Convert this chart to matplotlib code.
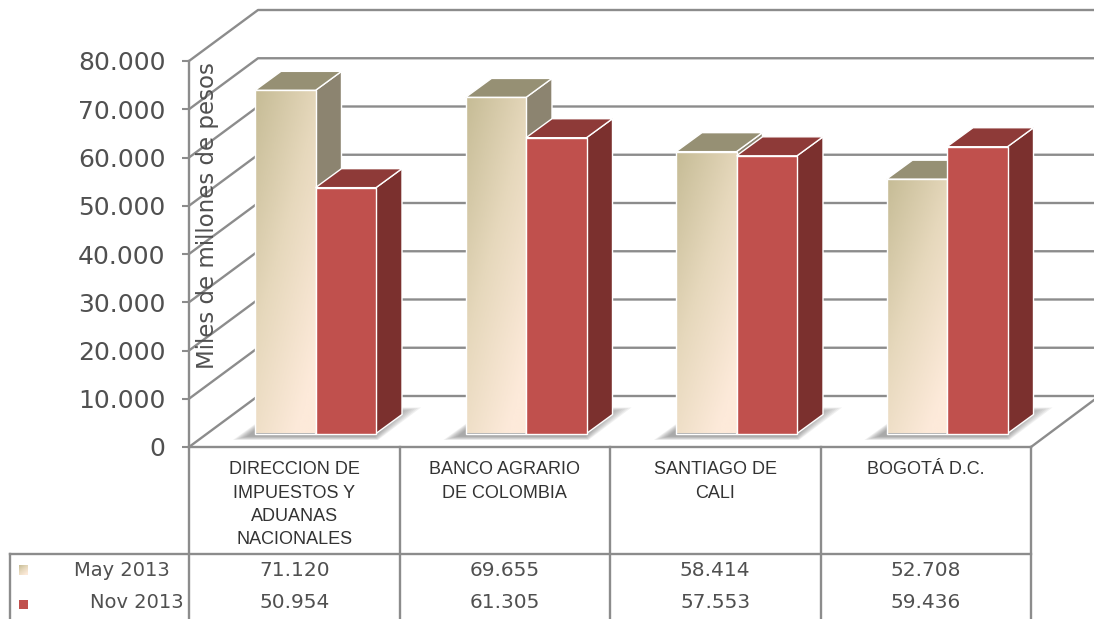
import numpy as np
import matplotlib
matplotlib.use("Agg")
import matplotlib.pyplot as plt
from matplotlib.colors import LinearSegmentedColormap
from matplotlib.patches import Polygon, Rectangle

categories = ["DIRECCION DE\nIMPUESTOS Y\nADUANAS\nNACIONALES", "BANCO AGRARIO\nDE COLOMBIA",
              "SANTIAGO DE\nCALI", "BOGOTÁ D.C."]
may_2013 = [71120, 69655, 58414, 52708]
nov_2013 = [50954, 61305, 57553, 59436]
series_names = ["May 2013", "Nov 2013"]
y_ticks = [0, 10000, 20000, 30000, 40000, 50000, 60000, 70000, 80000]
y_title = "Miles de millones de pesos"

W, H = 1094, 619
LEFT, RIGHT, TOP, BOTTOM = 189, 1031, 61, 447
GRID = "#8c8c8c"
TEXT = "#505050"

col_px = (RIGHT - LEFT) / len(categories)
val_px = (BOTTOM - TOP) / 80000


def xu(px):
    return px / col_px


def yu(px):
    return px / val_px


fig = plt.figure(figsize=(W / 100, H / 100), dpi=100)
ax = fig.add_axes([LEFT / W, 1 - BOTTOM / H, (RIGHT - LEFT) / W, (BOTTOM - TOP) / H])
ax.patch.set_visible(False)

# walls and floor
wall_dx, wall_dy = xu(69), yu(51)
x_end = xu(W - LEFT)
for v in y_ticks:
    ax.plot([0, wall_dx, x_end], [v, v + wall_dy, v + wall_dy], color=GRID, lw=1.7, clip_on=False, zorder=1)
ax.plot([len(categories), len(categories) + xu(63)], [0, yu(47)], color=GRID, lw=1.7, clip_on=False, zorder=1)

beige = LinearSegmentedColormap.from_list("beige", ["#c6bc96", "#e6d8bc", "#fdeada"])
yy, xx = np.mgrid[0:1:64j, 0:1:32j]
grad = np.clip((0.75 * yy + 0.5 * xx) / 1.1, 0, 1)

bar_w = xu(60.5)
depth_x, depth_y = xu(26), yu(19)
base = yu(13.5)
start = xu(66)


def draw_bar(x0, val, side, top, front=None):
    y1 = base + val
    ax.add_patch(Polygon([(x0 + bar_w, base), (x0 + bar_w + depth_x, base + depth_y),
                          (x0 + bar_w + depth_x, y1 + depth_y), (x0 + bar_w, y1)],
                         fc=side, ec="white", lw=1, clip_on=False, zorder=4))
    ax.add_patch(Polygon([(x0, y1), (x0 + depth_x, y1 + depth_y), (x0 + bar_w + depth_x, y1 + depth_y),
                          (x0 + bar_w, y1)], fc=top, ec="white", lw=1, clip_on=False, zorder=4))
    if front is not None:
        ax.bar(x0, val, bar_w, bottom=base, align="edge", color=front, edgecolor="white", lw=1, zorder=4)
    else:
        im = ax.imshow(grad, cmap=beige, extent=[x0, x0 + bar_w, base, y1], origin="upper", aspect="auto",
                       vmin=0, vmax=1, zorder=4)
        clip = Rectangle((x0, base), bar_w, val, transform=ax.transData)
        im.set_clip_path(clip)
        ax.bar(x0, val, bar_w, bottom=base, align="edge", color="none", edgecolor="white", lw=1, zorder=4)


for i, (a, b) in enumerate(zip(may_2013, nov_2013)):
    x0 = i + start
    # floor shadow, soft edge from stacked layers
    for inset in range(0, 16, 2):
        low = base - yu(6.5 - inset * 0.25)
        high = base + yu(26 - inset * 0.3)
        pts = [(x0 - xu(22 - inset), low), (x0 + 2 * bar_w + xu(2 - inset * 0.2), low),
               (x0 + 2 * bar_w + xu(45 - inset * 1.5), high), (x0 + xu(23), high)]
        ax.add_patch(Polygon(pts, fc="#707070", ec="none", alpha=0.1, clip_on=False, zorder=2))
    draw_bar(x0, a, "#8c8470", "#969074")
    draw_bar(x0 + bar_w, b, "#7b302e", "#8e3a38", "#c0504d")

ax.set_xlim(0, len(categories))
ax.set_ylim(0, 80000)
ax.set_xticks([])
ax.set_yticks(y_ticks)
ax.set_yticklabels([f"{v:,}".replace(",", ".") for v in y_ticks], fontsize=18, color=TEXT)
ax.tick_params(axis="y", length=5, width=1.5, color=GRID, pad=12)
for s in ["top", "right"]:
    ax.spines[s].set_visible(False)
ax.spines["left"].set_color(GRID)
ax.spines["left"].set_linewidth(1.7)
ax.spines["bottom"].set_color(GRID)
ax.spines["bottom"].set_linewidth(1.7)
ax.set_ylabel(y_title, fontsize=16.5, color=TEXT)
ax.yaxis.set_label_coords((219 - LEFT) / (RIGHT - LEFT), (BOTTOM - 216) / (BOTTOM - TOP))
ax.yaxis.label.set_zorder(6)

# data table underneath, in pixel coordinates
tb = fig.add_axes([0, 0, 1, 1], zorder=3)
tb.set_xlim(0, W)
tb.set_ylim(H, 0)
tb.axis("off")
for i in range(len(categories) + 1):
    x = LEFT + i * col_px
    tb.plot([x, x], [BOTTOM, H], color=GRID, lw=1.7)
tb.plot([10, RIGHT], [554, 554], color=GRID, lw=1.7)
tb.plot([10, 10], [554, H], color=GRID, lw=1.7)

for i, name in enumerate(categories):
    cx = LEFT + (i + 0.5) * col_px
    tb.text(cx, 461, name, ha="center", va="top", fontsize=13, family="Liberation Sans", color="#333333",
            linespacing=1.5)
    tb.text(cx, 570, f"{may_2013[i]:,}".replace(",", "."), ha="center", va="center", fontsize=14.5, color=TEXT)
    tb.text(cx, 603, f"{nov_2013[i]:,}".replace(",", "."), ha="center", va="center", fontsize=14.5, color=TEXT)

tb.text(122, 570, series_names[0], ha="center", va="center", fontsize=14, color=TEXT)
tb.text(137, 602, series_names[1], ha="center", va="center", fontsize=14, color=TEXT)
tb.imshow(grad, cmap=beige, extent=[19, 28, 575, 565], aspect="auto", vmin=0, vmax=1)
tb.add_patch(Rectangle((19, 600), 9, 9, fc="#c0504d", ec="none"))
tb.set_xlim(0, W)
tb.set_ylim(H, 0)

fig.savefig("out.png", dpi=100)
